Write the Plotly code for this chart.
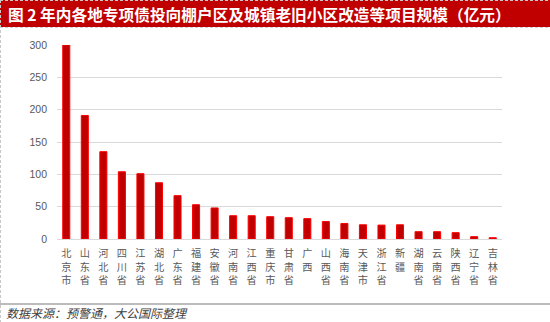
import plotly.graph_objects as go

# 各地专项债投向棚户区及城镇老旧小区改造等项目规模（亿元）
provinces = ["北京市", "山东省", "河北省", "四川省", "江苏省", "湖北省", "广东省",
             "福建省", "安徽省", "河南省", "江西省", "重庆市", "甘肃省", "广西",
             "山西省", "海南省", "天津市", "浙江省", "新疆", "湖南省", "云南省",
             "陕西省", "辽宁省", "吉林省"]
amounts = [300, 191, 135, 104, 101, 87, 67, 53, 48, 36, 36, 34.5, 33, 31.5,
           27, 24, 22, 21.5, 22, 11.3, 11.3, 9.8, 3.6, 2]
y_ticks = [0, 50, 100, 150, 200, 250, 300]

title_text = "图 2 年内各地专项债投向棚户区及城镇老旧小区改造等项目规模（亿元）"
source_text = "数据来源：预警通，大公国际整理"

# vertical labels: one character per line
tick_labels = ["<br>".join(list(p)) for p in provinces]

W, H = 550, 322
M_L, M_R, M_T, M_B = 57, 48, 45, 83
plot_h = H - M_T - M_B


def py(pixel_y):
    """Convert a pixel row (from top of page) to paper y."""
    return (H - M_B - pixel_y) / plot_h


def px(pixel_x):
    return (pixel_x - M_L) / (W - M_L - M_R)


cjk = "Noto Sans CJK SC"

fig = go.Figure(
    go.Bar(
        x=provinces,
        y=amounts,
        width=0.38,
        marker=dict(color="#C00000", line=dict(color="#FF0000", width=1)),
        hoverinfo="x+y",
    )
)

shapes = [
    # title banner
    dict(type="rect", xref="paper", yref="paper", x0=px(0), x1=px(W),
         y0=py(27), y1=py(0), fillcolor="#C00000", line=dict(width=0), layer="below"),
    # dashed frame lines
    dict(type="line", xref="paper", yref="paper", x0=px(0), x1=px(W),
         y0=py(0.5), y1=py(0.5), line=dict(color="#C8C8C8", width=1, dash="3px,2px")),
    dict(type="line", xref="paper", yref="paper", x0=px(0), x1=px(W),
         y0=py(27.5), y1=py(27.5), line=dict(color="#D0D0D0", width=1, dash="3px,2px")),
    dict(type="line", xref="paper", yref="paper", x0=px(0.5), x1=px(0.5),
         y0=py(0), y1=py(H), line=dict(color="#C8C8C8", width=1, dash="3px,2px")),
    # footer separator
    dict(type="line", xref="paper", yref="paper", x0=px(0), x1=px(W),
         y0=py(304), y1=py(304), line=dict(color="#A6A6A6", width=1.5)),
]

annotations = [
    dict(text="<b>" + title_text + "</b>", xref="paper", yref="paper",
         x=px(6), y=py(14.5), xanchor="left", yanchor="middle", showarrow=False,
         font=dict(family=cjk, size=15.7, color="white")),
    dict(text="<i>" + source_text + "</i>", xref="paper", yref="paper",
         x=px(4), y=py(312.5), xanchor="left", yanchor="middle", showarrow=False,
         font=dict(family=cjk, size=12, color="#404040")),
]

fig.update_layout(
    width=W, height=H,
    margin=dict(l=M_L, r=M_R, t=M_T, b=M_B, pad=0),
    paper_bgcolor="white", plot_bgcolor="white",
    showlegend=False,
    shapes=shapes,
    annotations=annotations,
    bargap=0.62,
    xaxis=dict(
        type="category",
        tickmode="array", tickvals=provinces, ticktext=tick_labels,
        tickangle=0,
        tickfont=dict(family=cjk, size=10.2, color="#595959"),
        showgrid=False, showline=True, linecolor="#D9D9D9", linewidth=1,
        ticks="", ticklabelstandoff=5,
        range=[-0.5, len(provinces) - 0.5],
        fixedrange=True,
    ),
    yaxis=dict(
        range=[0, 300],
        tickmode="array", tickvals=y_ticks,
        tickfont=dict(family="Liberation Sans", size=10.5, color="#595959"),
        showgrid=True, gridcolor="#D9D9D9", gridwidth=1,
        zeroline=True, zerolinecolor="#D9D9D9", zerolinewidth=1,
        showline=False, ticks="", ticklabelstandoff=9,
        fixedrange=True,
    ),
)

fig.write_html("out.html", config={"displayModeBar": False})
